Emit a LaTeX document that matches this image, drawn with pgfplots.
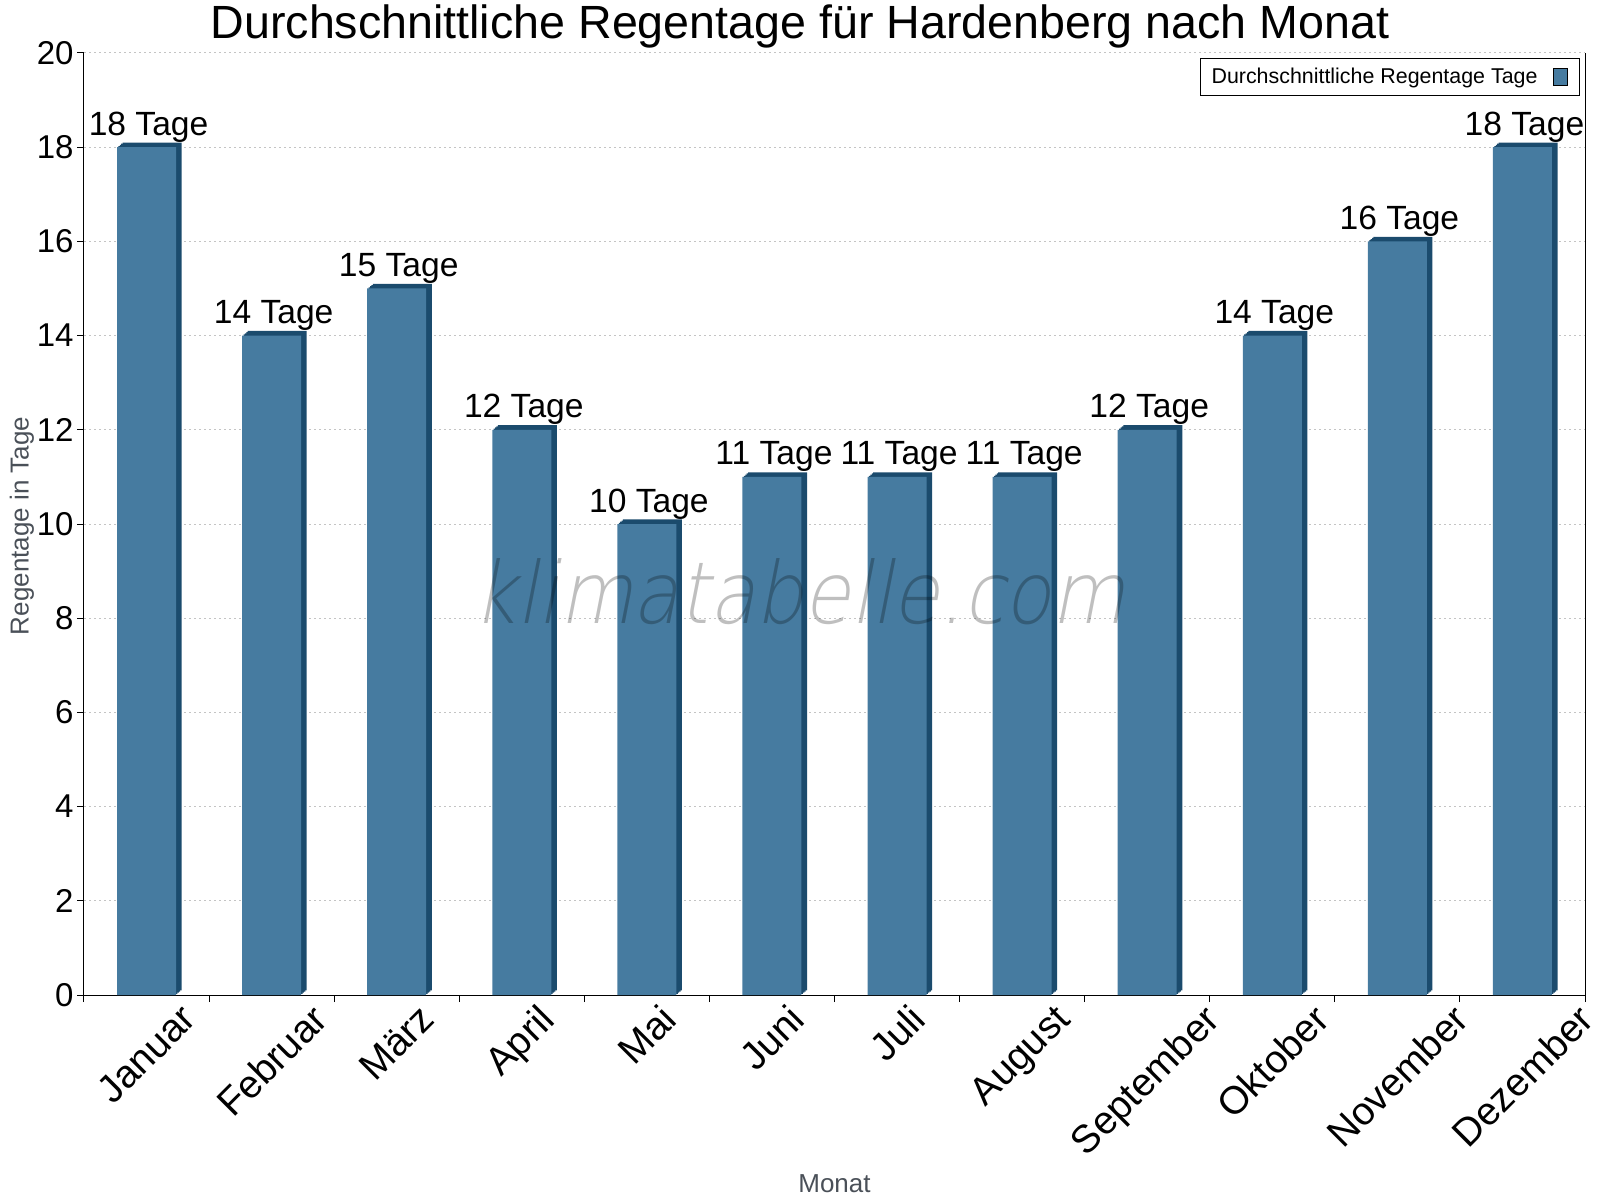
\documentclass[border=0pt]{standalone}
\usepackage{fontspec}
\setmainfont{Liberation Sans}
\newfontfamily\wmfont[FakeSlant=0.22]{DejaVu Sans ExtraLight}
\usepackage{graphicx}
\usepackage{pgfplots}
\usepackage{pgfplotstable}
\pgfplotsset{compat=1.18}

\definecolor{barfront}{HTML}{467BA0}
\definecolor{barside}{HTML}{1B4B6D}
\definecolor{gridgray}{HTML}{C4C4C4}
\definecolor{labelgray}{HTML}{4A5058}

% Average rainy days per month (x = category centre)
\pgfplotstableread{
x v
0.5 18
1.5 14
2.5 15
3.5 12
4.5 10
5.5 11
6.5 11
7.5 11
8.5 12
9.5 14
10.5 16
11.5 18
}\raindata

\begin{document}
\begin{tikzpicture}
\begin{axis}[
  name=ax,
  scale only axis, width=750.5pt, height=471pt,
  xmin=0, xmax=12, ymin=0, ymax=20,
  axis x line*=bottom,
  ytick={0,2,...,20}, ytick pos=left,
  xtick={0.5,1.5,...,11.5},
  xticklabels={\rotatebox{45}{Januar},\rotatebox{45}{Februar},\rotatebox{45}{März},\rotatebox{45}{April},\rotatebox{45}{Mai},\rotatebox{45}{Juni},\rotatebox{45}{Juli},\rotatebox{45}{August},\rotatebox{45}{September},\rotatebox{45}{Oktober},\rotatebox{45}{November},\rotatebox{45}{Dezember}},
  minor xtick={0,1,...,12},
  tick align=outside,
  major tick length=3.5pt, minor tick length=3.5pt,
  major x tick style={draw=none},
  tick style={black, line width=0.5pt},
  axis line style={black, line width=0.5pt},
  ymajorgrids,
  grid style={gridgray, line width=0.5pt, dash pattern=on 1pt off 1.5pt},
  /pgf/number format/assume math mode=true,
  yticklabel style={font=\fontsize{16.5}{19}\selectfont, inner sep=0pt, anchor=east, xshift=-1.5pt},
  xticklabel style={font=\fontsize{19.5}{23}\selectfont, inner sep=0pt, anchor=north, yshift=0pt},
  ylabel={Regentage in Tage},
  ylabel style={at={(axis description cs:-0.0413,0.498)}, anchor=center, font=\fontsize{13}{15}\selectfont, text=labelgray},
  xlabel={Monat},
  xlabel style={at={(axis description cs:0.5,-0.2001)}, anchor=center, font=\fontsize{13}{15}\selectfont, text=labelgray},
  legend style={at={(1,1)}, anchor=north east, xshift=-2.5pt, yshift=-2.5pt,
    draw=black, line width=0.5pt, font=\fontsize{10.7}{12.8}\selectfont,
    inner xsep=3.5pt, inner ysep=2.5pt},
  legend plot pos=right,
]
% dark side and top faces, built from small offset copies
\addplot[ybar, bar width=29.5pt, bar shift=0pt, fill=barside, draw=none, forget plot, xshift=2.8pt, yshift=2.3pt] table[x=x,y=v]{\raindata};
\addplot[ybar, bar width=29.5pt, bar shift=0pt, fill=barside, draw=none, forget plot, xshift=2.1pt, yshift=1.725pt] table[x=x,y=v]{\raindata};
\addplot[ybar, bar width=29.5pt, bar shift=0pt, fill=barside, draw=none, forget plot, xshift=1.4pt, yshift=1.15pt] table[x=x,y=v]{\raindata};
\addplot[ybar, bar width=29.5pt, bar shift=0pt, fill=barside, draw=none, forget plot, xshift=0.7pt, yshift=0.575pt] table[x=x,y=v]{\raindata};
% front faces with value labels
\addplot[ybar, bar width=29.5pt, bar shift=0pt, fill=barfront, draw=none,
  nodes near coords={\pgfmathprintnumber{\pgfplotspointmeta} Tage},
  every node near coord/.append style={anchor=base, yshift=6pt, xshift=1pt, inner sep=0pt, text=black, font=\fontsize{16.8}{19}\selectfont},
  legend image code/.code={\path (0pt,0pt) (15.5pt,0pt);
    \draw[fill=barfront, draw=black, line width=0.5pt] (6pt,-4.25pt) rectangle (13pt,4.25pt);}
] table[x=x,y=v]{\raindata};
\addlegendentry{Durchschnittliche Regentage Tage}
\end{axis}
\node[anchor=base, font=\fontsize{23.3}{28}\selectfont] at ([xshift=-17.25pt,yshift=7pt]ax.north) {Durchschnittliche Regentage für Hardenberg nach Monat};
\node[text=black, text opacity=0.25, inner sep=0pt] at ([xshift=-17.75pt,yshift=-269.5pt]ax.north) {\resizebox{326pt}{32.5pt}{\wmfont klimatabelle.com}};
\pgfresetboundingbox
\path ([shift={(-42pt,-102.5pt)}]ax.south west) rectangle ([shift={(7.5pt,26.5pt)}]ax.north east);
\end{tikzpicture}
\end{document}
